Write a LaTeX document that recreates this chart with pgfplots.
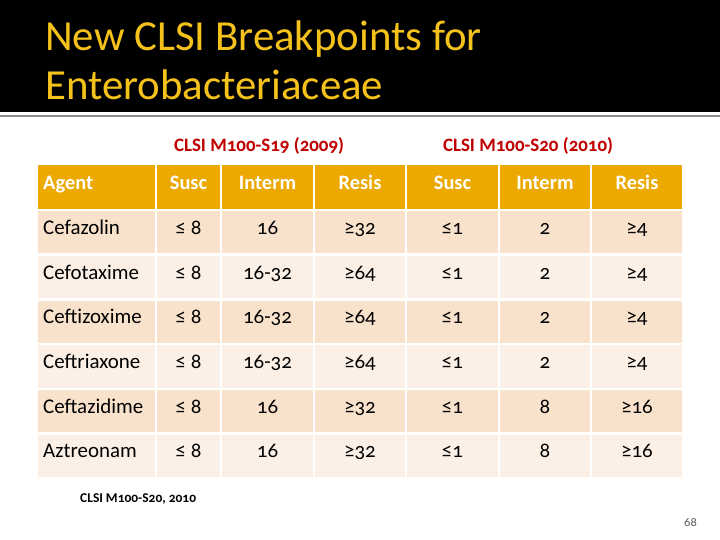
\documentclass[border=0pt]{standalone}
\usepackage{pgfplots}
\pgfplotsset{compat=1.18}
\usepackage{fontspec}
\setmainfont{Carlito}[Numbers=OldStyle]
\definecolor{titlegold}{HTML}{F5C21B}
\definecolor{subred}{HTML}{C00000}
\definecolor{hdr}{HTML}{ECA902}
\definecolor{rowA}{HTML}{F9E2CC}
\definecolor{rowB}{HTML}{FBEFE6}
\definecolor{pgnum}{HTML}{595959}
\newcommand{\fs}[1]{\fontsize{#1}{#1}\selectfont}
% cell: x1,x2,y1,y2,colour
\newcommand{\cell}[5]{\fill[#5] (axis cs:#1+1.2,#3+1.2) rectangle (axis cs:#2-1.2,#4-1.2);}
\begin{document}
\begin{tikzpicture}
\begin{axis}[
  width=720bp, height=540bp, scale only axis,
  xmin=0, xmax=720, ymin=0, ymax=540, y dir=reverse,
  hide axis, clip=false]
\fill[white] (axis cs:0,0) rectangle (axis cs:720,540);
% title band
\fill[black] (axis cs:0,0) rectangle (axis cs:720,112);
\fill[gray!90] (axis cs:0,115.2) rectangle (axis cs:720,117.2);
\node[anchor=base west, text=titlegold, inner sep=0] at (axis cs:45,51) {\fs{43}New CLSI Breakpoints for};
\node[anchor=base west, text=titlegold, inner sep=0] at (axis cs:45,100) {\fs{43}Enterobacteriaceae};
% subtitles
\node[text=subred, inner sep=0] at (axis cs:259,146) {\fs{19}\bfseries CLSI M100-S19 (2009)};
\node[text=subred, inner sep=0] at (axis cs:528,146) {\fs{19}\bfseries CLSI M100-S20 (2010)};
% header row
\foreach \a/\b in {37/156,156/221,221/314,314/406,406/499,499/591,591/683}{
  \edef\tmp{\noexpand\cell{\a}{\b}{164}{210}{hdr}}\tmp
}
% body rows
\foreach \t/\u [count=\r] in {210/254.7,254.7/299.3,299.3/344,344/388.7,388.7/433.3,433.3/478}{
  \foreach \a/\b in {37/156,156/221,221/314,314/406,406/499,499/591,591/683}{
    \ifodd\r
      \edef\tmp{\noexpand\cell{\a}{\b}{\t}{\u}{rowA}}\tmp
    \else
      \edef\tmp{\noexpand\cell{\a}{\b}{\t}{\u}{rowB}}\tmp
    \fi
  }
}
% header text
\foreach \x/\s in {188.5/Susc,267.5/Interm,360/Resis,452.5/Susc,545/Interm,637/Resis}{
  \edef\tmp{\noexpand\node[anchor=base, text=white, inner sep=0] at (axis cs:\x,189.5) {\noexpand\fs{20.5}\noexpand\bfseries \s};}\tmp
}
\node[anchor=base west, text=white, inner sep=0] at (axis cs:43,189.5) {\fs{20.5}\bfseries Agent};
% body text
\foreach \y/\ag/\sa/\ia/\ra/\sb/\ib/\rb in {
  234.5/Cefazolin/{≤ 8}/16/{≥32}/{≤1}/2/{≥4},
  279.2/Cefotaxime/{≤ 8}/16-32/{≥64}/{≤1}/2/{≥4},
  323.8/Ceftizoxime/{≤ 8}/16-32/{≥64}/{≤1}/2/{≥4},
  368.5/Ceftriaxone/{≤ 8}/16-32/{≥64}/{≤1}/2/{≥4},
  413.2/Ceftazidime/{≤ 8}/16/{≥32}/{≤1}/8/{≥16},
  457.8/Aztreonam/{≤ 8}/16/{≥32}/{≤1}/8/{≥16}}{
  \edef\tmp{%
   \noexpand\node[anchor=base west, inner sep=0] at (axis cs:43,\y) {\noexpand\fs{21}\ag};
   \noexpand\node[anchor=base, inner sep=0] at (axis cs:188.5,\y) {\noexpand\fs{21}\sa};
   \noexpand\node[anchor=base, inner sep=0] at (axis cs:267.5,\y) {\noexpand\fs{21}\ia};
   \noexpand\node[anchor=base, inner sep=0] at (axis cs:360,\y) {\noexpand\fs{21}\ra};
   \noexpand\node[anchor=base, inner sep=0] at (axis cs:452.5,\y) {\noexpand\fs{21}\sb};
   \noexpand\node[anchor=base, inner sep=0] at (axis cs:545,\y) {\noexpand\fs{21}\ib};
   \noexpand\node[anchor=base, inner sep=0] at (axis cs:637,\y) {\noexpand\fs{21}\rb};
  }\tmp
}
% footnote and page number
\node[anchor=west, inner sep=0] at (axis cs:80,499) {\fs{13.5}\bfseries CLSI M100-S20, 2010};
\node[anchor=east, text=pgnum, inner sep=0] at (axis cs:697,523) {\fs{12.5}68};
\end{axis}
\end{tikzpicture}
\end{document}
